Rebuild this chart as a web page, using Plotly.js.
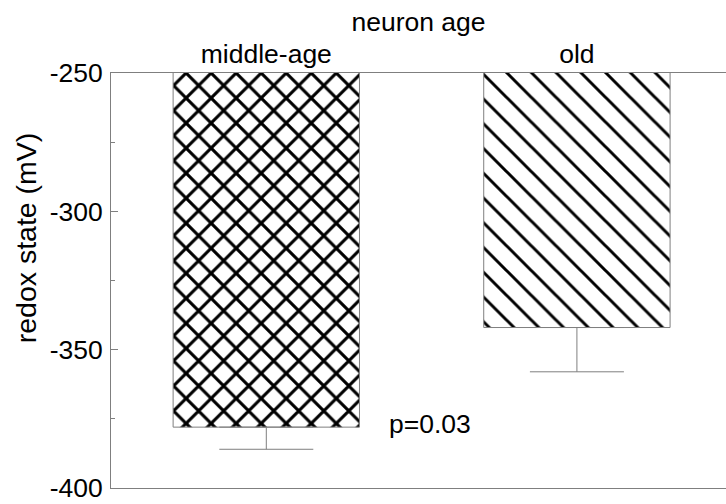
<!DOCTYPE html>
<html>
<head>
<meta charset="utf-8">
<script src="https://cdn.plot.ly/plotly-3.0.1.min.js"></script>
<style>html,body{margin:0;padding:0;background:#fff;}#chart{width:726px;height:504px;}</style>
</head>
<body>
<div id="chart"></div>
<script>
// Data
const categories = ["middle-age", "old"];
const redoxMean = [-378, -342];
const redoxErrMinus = [8, 16];
const patternShapes = ["x", "\\"];
const yTickVals = [-400, -350, -300, -250];
const yTickText = ["-400", "-350", "-300", "-250"];
const xTitle = "neuron age";
const yTitle = "redox state (mV)";
const pLabel = "p=0.03";

const FONT = "Liberation Sans, Arial, sans-serif";
const FS = 26.5;
const GREY = "#7f7f7f";

const trace = {
  type: "bar",
  x: categories,
  y: redoxMean,
  width: 0.6,
  marker: {
    color: "#ffffff",
    line: {color: GREY, width: 1},
    pattern: {
      shape: patternShapes,
      fgcolor: "#000000",
      bgcolor: "#ffffff",
      fgopacity: 1,
      fillmode: "replace",
      size: [17.7, 17.5],
      solidity: [0.32, 0.17]
    }
  },
  error_y: {
    type: "data",
    symmetric: false,
    array: [0, 0],
    arrayminus: redoxErrMinus,
    color: GREY,
    thickness: 1,
    width: 47
  },
  hoverinfo: "none"
};

const layout = {
  width: 726,
  height: 504,
  margin: {l: 111, r: 0, t: 73, b: 16},
  paper_bgcolor: "#ffffff",
  plot_bgcolor: "#ffffff",
  showlegend: false,
  font: {family: FONT, size: FS, color: "#000"},
  xaxis: {
    side: "top",
    type: "category",
    range: [-0.5, 1.48],
    showline: true,
    mirror: true,
    linecolor: GREY,
    linewidth: 1,
    ticks: "",
    showgrid: false,
    zeroline: false,
    ticklabelstandoff: -2,
    tickfont: {family: FONT, size: FS, color: "#000"},
    title: {text: xTitle, font: {family: FONT, size: FS, color: "#000"}, standoff: 0}
  },
  yaxis: {
    range: [-400, -250],
    tickvals: yTickVals,
    ticktext: yTickText,
    ticks: "inside",
    ticklen: 7,
    tickcolor: GREY,
    tickwidth: 1,
    minor: {dtick: 25, ticks: "inside", ticklen: 4, tickcolor: GREY, showgrid: false},
    showline: true,
    linecolor: GREY,
    linewidth: 1,
    showgrid: false,
    zeroline: false,
    tickfont: {family: FONT, size: FS, color: "#000"},
    ticklabelstandoff: 2
  },
  annotations: [
    {
      text: yTitle, xref: "paper", yref: "paper",
      x: -0.138, y: 0.602, textangle: -90, showarrow: false,
      xanchor: "center", yanchor: "middle",
      font: {family: FONT, size: 28.5, color: "#000"}
    },
    {
      text: pLabel, xref: "paper", yref: "y",
      x: 0.518, y: -377, showarrow: false,
      xanchor: "center", yanchor: "middle",
      font: {family: FONT, size: FS, color: "#000"}
    }
  ]
};

Plotly.newPlot("chart", [trace], layout, {displayModeBar: false, staticPlot: true});
</script>
</body>
</html>
